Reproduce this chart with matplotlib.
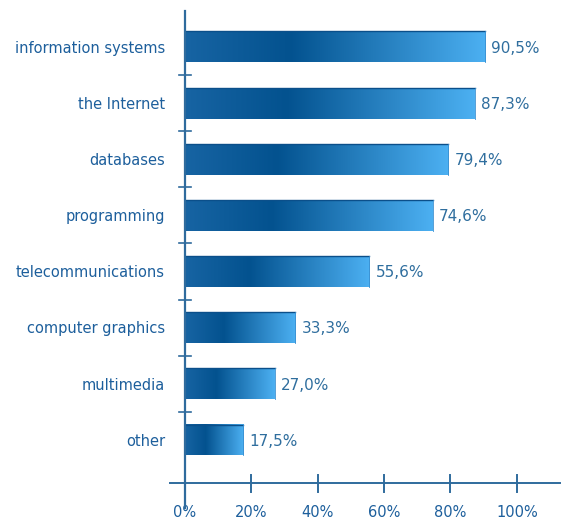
import numpy as np
import matplotlib
matplotlib.use("Agg")
import matplotlib.pyplot as plt
from matplotlib.colors import LinearSegmentedColormap

# data, bottom to top
categories = ["other", "multimedia", "computer graphics", "telecommunications",
              "programming", "databases", "the Internet", "information systems"]
values = [17.5, 27.0, 33.3, 55.6, 74.6, 79.4, 87.3, 90.5]
xticks = [0, 20, 40, 60, 80, 100]
xtick_labels = ["0%", "20%", "40%", "60%", "80%", "100%"]

axis_col = "#2f6b9d"
text_col = "#1d5f9c"
val_col = "#2f6e9e"

bar_cmap = LinearSegmentedColormap.from_list(
    "bar", [(0.0, "#1764a3"), (0.35, "#03528f"), (1.0, "#4cb0f2")])

fig = plt.figure(figsize=(5.66, 5.17), dpi=100)
ax = fig.add_axes([170 / 566, 1 - 508 / 517, 390 / 566, 497 / 517])
ax.set_xlim(-4.5, 113)
ax.set_ylim(-1.21, 7.64)
ax.axis("off")

h = 0.55
grad = np.linspace(0, 1, 256).reshape(1, -1)
for i, v in enumerate(values):
    ax.imshow(grad, cmap=bar_cmap, aspect="auto", interpolation="bilinear",
              extent=[0, v, i - h / 2, i + h / 2], zorder=2)
    ax.plot([0, v], [i + h / 2, i + h / 2], color="#0b4f8a", lw=1.0, zorder=3)
    ax.plot([v, v], [i - h / 2, i + h / 2], color="#3a8fd0", lw=0.6, zorder=3)
    ax.text(v + 1.8, i - 0.02, f"{v:.1f}%".replace(".", ","), color=val_col,
            fontsize=11, va="center", ha="left", zorder=4)
    ax.text(-6, i - 0.02, categories[i], color=text_col, fontsize=10.5,
            va="center", ha="right", clip_on=False)

# axes lines
ax.plot([0, 0], [-1.21, 7.64], color=axis_col, lw=1.6, zorder=5, clip_on=False)
ax.plot([-4.5, 113], [-0.766, -0.766], color=axis_col, lw=1.4, zorder=5,
        clip_on=False)

# y ticks between bars
for i in range(len(values) - 1):
    ax.plot([-1.8, 1.8], [i + 0.5, i + 0.5], color=axis_col, lw=1.2, zorder=5)

# x ticks
for t, lab in zip(xticks, xtick_labels):
    if t > 0:
        ax.plot([t, t], [-0.62, -0.92], color=axis_col, lw=1.4, zorder=5)
    ax.text(t, -1.15, lab, color=text_col, fontsize=10.5, ha="center", va="top",
            clip_on=False)

fig.savefig("out.png", dpi=100)
